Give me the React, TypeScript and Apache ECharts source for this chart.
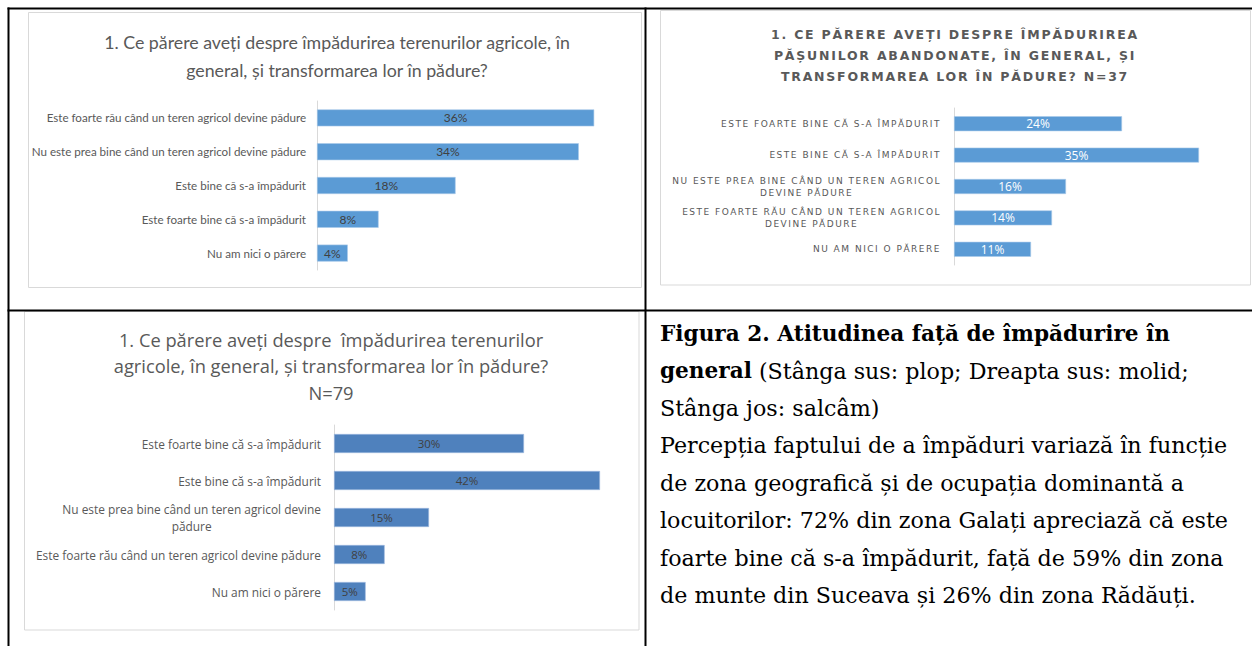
import React, { useEffect, useRef } from "react";
import * as echarts from "echarts";

// ---------- Chart 1 (top-left: plop) ----------
const c1Title = "1. Ce părere aveți despre împădurirea terenurilor agricole, în\ngeneral, și transformarea lor în pădure?";
const c1Categories = [
  "Este foarte rău când un teren agricol devine pădure",
  "Nu este prea bine când un teren agricol devine pădure",
  "Este bine că s-a împădurit",
  "Este foarte bine că s-a împădurit",
  "Nu am nici o părere",
];
const c1Values = [36, 34, 18, 8, 4];

// ---------- Chart 2 (top-right: molid) ----------
const c2Title =
  "1. CE PĂRERE AVEȚI DESPRE ÎMPĂDURIREA\nPĂȘUNILOR ABANDONATE, ÎN GENERAL, ȘI\nTRANSFORMAREA LOR ÎN PĂDURE? N=37";
const c2Categories = [
  "ESTE FOARTE BINE CĂ S-A ÎMPĂDURIT",
  "ESTE BINE CĂ S-A ÎMPĂDURIT",
  "NU ESTE PREA BINE CÂND UN TEREN AGRICOL\nDEVINE PĂDURE",
  "ESTE FOARTE RĂU CÂND UN TEREN AGRICOL\nDEVINE PĂDURE",
  "NU AM NICI O PĂRERE",
];
const c2Values = [24, 35, 16, 14, 11];

// ---------- Chart 3 (bottom-left: salcâm) ----------
const c3Title =
  "1. Ce părere aveți despre  împădurirea terenurilor\nagricole, în general, și transformarea lor în pădure?\nN=79";
const c3Categories = [
  "Este foarte bine că s-a împădurit",
  "Este bine că s-a împădurit",
  "Nu este prea bine când un teren agricol devine\npădure",
  "Este foarte rău când un teren agricol devine pădure",
  "Nu am nici o părere",
];
const c3Values = [30, 42, 15, 8, 5];

// ---------- Caption ----------
const captionBold1 = "Figura 2. Atitudinea față de împădurire în";
const captionBold2 = "general";
const captionLines = [
  " (Stânga sus: plop; Dreapta sus: molid;",
  "Stânga jos: salcâm)",
  "Percepția faptului de a împăduri variază în funcție",
  "de zona geografică și de ocupația dominantă a",
  "locuitorilor: 72% din zona Galați apreciază că este",
  "foarte bine că s-a împădurit, față de 59% din zona",
  "de munte din Suceava și 26% din zona Rădăuți.",
];

const F1 = "Lato";
const F2 = "DejaVu Sans";
const F3 = "Open Sans";
const FS = "DejaVu Serif";
const C2_SPACING = 1.5;
const C2_TITLE_SPACING = 1.78;
const C2_LABEL_SIZE = 9;

const CSS = `
#root svg text[style*="DejaVu Sans"], #root svg text[font-family*="DejaVu Sans"] { letter-spacing: ${C2_SPACING}px; }
#root svg text[style*="DejaVu Sans"][style*="bold"] { letter-spacing: ${C2_TITLE_SPACING}px; }
`;

function measure(text: string, font: string, spacing: number) {
  const ctx = document.createElement("canvas").getContext("2d");
  if (!ctx) return text.length * 6;
  ctx.font = font;
  return ctx.measureText(text).width + spacing * Array.from(text).length;
}

function wrapRich(v: string) {
  return v
    .split("\n")
    .map((l) => `{c|${l}}`)
    .join("\n");
}

function buildOption() {
  const caption = [
    `{b|${captionBold1}}`,
    `{b|${captionBold2}}{n|${captionLines[0]}}`,
    ...captionLines.slice(1).map((l) => `{n|${l}}`),
  ].join("\n");

  const boxStyle = { stroke: "#d9d9d9", lineWidth: 1, fill: "#fff" };
  const lineStyle = { fill: "#000" };

  // chart 2 labels: right-aligned block, second line centred under the first
  const c2Base = { fontFamily: F2, fontSize: C2_LABEL_SIZE, color: "#595959", lineHeight: 12, align: "right" };
  const c2Rich: Record<string, any> = { r: c2Base };
  c2Categories.forEach((cat, i) => {
    const lines = cat.split("\n");
    if (lines.length > 1) {
      const font = `${C2_LABEL_SIZE}px ${F2}`;
      const pad = Math.max(0, (measure(lines[0], font, C2_SPACING) - measure(lines[1], font, C2_SPACING)) / 2);
      c2Rich["d" + i] = { ...c2Base, padding: [0, pad, 0, 0] };
    }
  });
  const c2Formatter = (v: string, i: number) => {
    const lines = v.split("\n");
    if (lines.length === 1) return `{r|${v}}`;
    return `{r|${lines[0]}}\n{d${i}|${lines[1]}}`;
  };

  return {
    animation: false,
    backgroundColor: "#fff",
    title: [
      {
        text: c1Title,
        left: 337,
        top: 28,
        textAlign: "center",
        padding: 0,
        textStyle: { fontFamily: F1, fontSize: 17.8, fontWeight: "normal", color: "#595959", lineHeight: 28.3 },
      },
      {
        text: c2Title,
        left: 955,
        top: 24,
        textAlign: "center",
        padding: 0,
        textStyle: { fontFamily: F2, fontSize: 12.5, fontWeight: "bold", color: "#595959", lineHeight: 21 },
      },
      {
        text: c3Title,
        left: 331,
        top: 326,
        textAlign: "center",
        padding: 0,
        textStyle: { fontFamily: F3, fontSize: 18.3, fontWeight: "normal", color: "#595959", lineHeight: 26.5 },
      },
    ],
    graphic: [
      { type: "rect", z: -10, shape: { x: 28.5, y: 12.5, width: 613, height: 275 }, style: boxStyle },
      { type: "rect", z: -10, shape: { x: 660.5, y: 10.5, width: 590, height: 274.5 }, style: boxStyle },
      { type: "rect", z: -10, shape: { x: 24.5, y: 311.5, width: 614.5, height: 318.5 }, style: boxStyle },
      { type: "rect", z: -5, shape: { x: 7.5, y: 7.5, width: 2, height: 640 }, style: lineStyle },
      { type: "rect", z: -5, shape: { x: 7.5, y: 7.5, width: 1246, height: 2 }, style: lineStyle },
      { type: "rect", z: -5, shape: { x: 644.5, y: 7.5, width: 2, height: 640 }, style: lineStyle },
      { type: "rect", z: -5, shape: { x: 7.5, y: 309.5, width: 1246, height: 2 }, style: lineStyle },
      {
        type: "text",
        x: 660,
        y: 314.5,
        style: {
          text: caption,
          fill: "#000",
          fontFamily: FS,
          fontSize: 22.2,
          lineHeight: 37.4,
          rich: {
            b: { fontFamily: FS, fontSize: 21.6, fontWeight: "bold", fill: "#000", lineHeight: 37.4 },
            n: { fontFamily: FS, fontSize: 22.2, fontWeight: "normal", fill: "#000", lineHeight: 37.4 },
          },
        },
      },
    ],
    grid: [
      { left: 317, top: 101, width: 308, height: 169, outerBoundsMode: "none", containLabel: false },
      { left: 954, top: 108, width: 280, height: 157, outerBoundsMode: "none", containLabel: false },
      { left: 334, top: 425, width: 285, height: 185, outerBoundsMode: "none", containLabel: false },
    ],
    xAxis: [
      { type: "value", gridIndex: 0, min: 0, max: 40, show: false },
      { type: "value", gridIndex: 1, min: 0, max: 40, show: false },
      { type: "value", gridIndex: 2, min: 0, max: 45, show: false },
    ],
    yAxis: [
      {
        type: "category",
        gridIndex: 0,
        inverse: true,
        data: c1Categories,
        axisLine: { show: true, lineStyle: { color: "#d9d9d9", width: 1 } },
        axisTick: { show: false },
        axisLabel: {
          margin: 11,
          formatter: wrapRich,
          rich: { c: { align: "center", fontFamily: F1, fontSize: 11.6, color: "#595959", lineHeight: 15 } },
        },
      },
      {
        type: "category",
        gridIndex: 1,
        inverse: true,
        data: c2Categories,
        axisLine: { show: true, lineStyle: { color: "#d9d9d9", width: 1 } },
        axisTick: { show: false },
        axisLabel: {
          margin: 13,
          formatter: c2Formatter,
          rich: c2Rich,
        },
      },
      {
        type: "category",
        gridIndex: 2,
        inverse: true,
        data: c3Categories,
        axisLine: { show: true, lineStyle: { color: "#d9d9d9", width: 1 } },
        axisTick: { show: false },
        axisLabel: {
          margin: 13,
          formatter: wrapRich,
          rich: { c: { align: "center", fontFamily: F3, fontSize: 11.9, color: "#595959", lineHeight: 17 } },
        },
      },
    ],
    series: [
      {
        type: "bar",
        xAxisIndex: 0,
        yAxisIndex: 0,
        data: c1Values,
        barWidth: 17,
        itemStyle: { color: "#5b9bd5", borderColor: "#a9c9e9", borderWidth: 0.6 },
        label: { show: true, position: "inside", formatter: "{c}%", color: "#404040", fontFamily: F1, fontSize: 12 },
      },
      {
        type: "bar",
        xAxisIndex: 1,
        yAxisIndex: 1,
        data: c2Values,
        barWidth: 15,
        itemStyle: { color: "#5b9bd5", borderColor: "#a9c9e9", borderWidth: 0.6 },
        label: { show: true, position: "inside", formatter: "{c}%", color: "#ffffff", fontFamily: "Open Sans", fontSize: 12 },
      },
      {
        type: "bar",
        xAxisIndex: 2,
        yAxisIndex: 2,
        data: c3Values,
        barWidth: 19,
        itemStyle: { color: "#4f81bd", borderColor: "#9fbbe0", borderWidth: 0.6 },
        label: { show: true, position: "inside", formatter: "{c}%", color: "#404040", fontFamily: F3, fontSize: 11.5 },
      },
    ],
  };
}

export default function App() {
  const ref = useRef<HTMLDivElement>(null);
  useEffect(() => {
    if (!ref.current) return;
    const chart = echarts.init(ref.current, null, { renderer: "svg" });
    chart.setOption(buildOption() as any);
    return () => chart.dispose();
  }, []);
  return (
    <>
      <style>{CSS}</style>
      <div
        ref={ref}
        style={{ position: "absolute", left: 0, top: 0, width: 1252, height: 646, background: "#fff" }}
      />
    </>
  );
}
